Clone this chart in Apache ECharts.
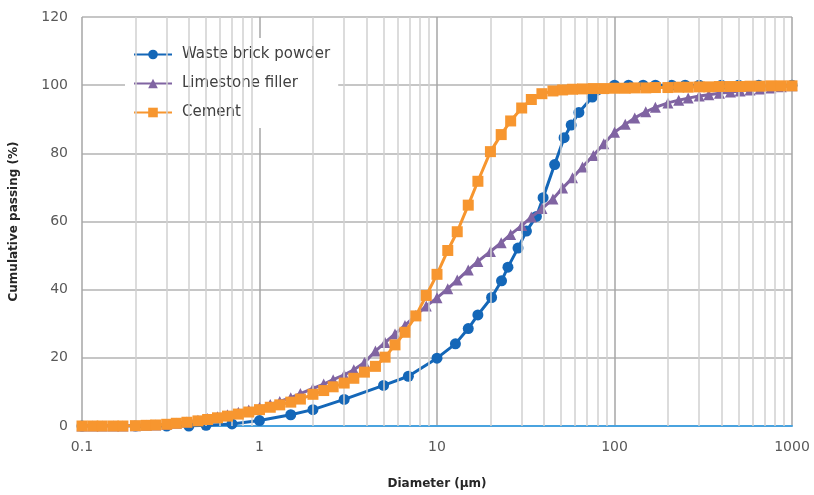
<!DOCTYPE html>
<html><head><meta charset="utf-8">
<script src="https://cdn.jsdelivr.net/npm/echarts@6/dist/echarts.min.js"></script>
<style>html,body{margin:0;padding:0;background:#fff}#c{width:814px;height:495px}</style>
</head><body><div id="c"></div>
<script>
// Waste brick powder (diameter µm, cumulative %)
const brickD = [0.1, 0.2, 0.3, 0.4, 0.5, 0.7, 1.0, 1.5, 2.0, 3.0, 5.0, 6.9, 10, 12.7, 15, 17, 20.3, 23.1, 25.1, 28.6, 31.9, 36.3, 39.6, 46, 52, 57, 63, 75, 100, 120, 145, 170, 210, 250, 300, 400, 500, 650, 1000];
const brickV = [0, 0, 0, 0, 0.2, 0.6, 1.6, 3.3, 4.8, 7.8, 11.9, 14.6, 19.9, 24.1, 28.6, 32.6, 37.7, 42.6, 46.6, 52.2, 57.2, 61.5, 67.0, 76.7, 84.6, 88.3, 92.0, 96.5, 100, 100, 100, 100, 100, 100, 100, 100, 100, 100, 100];
// Shared size bins for limestone filler and cement
const binD = [0.1, 0.115, 0.13, 0.15, 0.17, 0.2, 0.23, 0.26, 0.3, 0.34, 0.39, 0.45, 0.51, 0.58, 0.66, 0.76, 0.87, 1.0, 1.15, 1.3, 1.5, 1.7, 2.0, 2.3, 2.6, 3.0, 3.4, 3.9, 4.5, 5.1, 5.8, 6.6, 7.6, 8.7, 10, 11.5, 13, 15, 17, 20, 23, 26, 30, 34, 39, 45, 51, 58, 66, 76, 87, 100, 115, 130, 150, 170, 200, 230, 260, 300, 340, 390, 450, 510, 580, 660, 760, 870, 1000];
const limeV = [0, 0, 0, 0, 0, 0.1, 0.2, 0.3, 0.5, 0.8, 1.2, 1.7, 2.2, 2.7, 3.3, 4.0, 4.7, 5.4, 6.3, 7.2, 8.3, 9.5, 11.0, 12.3, 13.6, 15.0, 16.5, 18.6, 22.0, 24.5, 27.0, 29.5, 32.5, 35.2, 37.6, 40.3, 42.8, 45.8, 48.3, 51.2, 53.8, 56.2, 58.8, 61.3, 63.8, 66.6, 69.8, 72.8, 76.0, 79.4, 82.8, 86.2, 88.5, 90.4, 92.2, 93.5, 94.8, 95.6, 96.2, 96.8, 97.2, 97.6, 98.0, 98.3, 98.6, 98.9, 99.2, 99.5, 99.8];
const cemV = [0, 0, 0, 0, 0, 0.1, 0.2, 0.3, 0.5, 0.8, 1.1, 1.5, 1.9, 2.4, 2.9, 3.5, 4.1, 4.8, 5.5, 6.2, 7.0, 7.9, 9.3, 10.4, 11.5, 12.6, 14.0, 15.8, 17.5, 20.2, 23.8, 27.5, 32.3, 38.3, 44.5, 51.5, 57.0, 64.8, 71.8, 80.5, 85.5, 89.5, 93.3, 95.8, 97.5, 98.3, 98.6, 98.8, 98.9, 99.0, 99.0, 99.1, 99.1, 99.2, 99.2, 99.3, 99.3, 99.4, 99.4, 99.5, 99.5, 99.6, 99.6, 99.6, 99.7, 99.7, 99.8, 99.8, 99.8];
const seriesNames = ['Waste brick powder', 'Limestone filler', 'Cement'];
const xTicks = [0.1, 1, 10, 100, 1000];
const minorGrid = [0.2,0.3,0.4,0.5,0.6,0.7,0.8,0.9,2,3,4,5,6,7,8,9,20,30,40,50,60,70,80,90,200,300,400,500,600,700,800,900];

const zip = (a, b) => a.map((d, i) => [d, b[i]]);
const FONT = 'DejaVu Sans';
const chart = echarts.init(document.getElementById('c'));
chart.setOption({
  animation: false,
  backgroundColor: '#fff',
  grid: { left: 82, right: 22, top: 17, bottom: 60 },
  legend: {
    data: seriesNames,
    orient: 'vertical',
    left: 125, top: 38,
    width: 240,
    backgroundColor: '#ffffff',
    padding: [9, 8, 8, 8],
    itemGap: 14,
    itemWidth: 38, itemHeight: 12,
    textStyle: { fontFamily: FONT, fontSize: 15, color: '#404040', padding: [0, 0, 0, 5] }
  },
  xAxis: {
    type: 'log', logBase: 10, min: 0.1, max: 1000,
    name: 'Diameter (µm)', nameLocation: 'middle', nameGap: 52,
    nameTextStyle: { fontFamily: FONT, fontSize: 12, fontWeight: 'bold', color: '#262626' },
    axisLine: { show: true, lineStyle: { color: '#4aa3df', width: 2 } },
    axisTick: { show: false },
    axisLabel: { fontFamily: FONT, fontSize: 14, color: '#595959', margin: 14,
      formatter: v => String(Number(Number(v).toPrecision(6))) },
    splitLine: { show: true, lineStyle: { color: '#a6a6a6', width: 1.5 } }
  },
  yAxis: {
    type: 'value', min: 0, max: 120, interval: 20,
    name: 'Cumulative passing (%)', nameLocation: 'middle', nameGap: 62, nameRotate: 90,
    nameTextStyle: { fontFamily: FONT, fontSize: 12, fontWeight: 'bold', color: '#262626' },
    axisLine: { show: false }, axisTick: { show: false },
    axisLabel: { fontFamily: FONT, fontSize: 14, color: '#595959', margin: 14 },
    splitLine: { show: true, lineStyle: { color: '#b3b3b3', width: 1.5 } }
  },
  series: [
    { type: 'line', name: 'grid', data: [], z: 1, silent: true,
      markLine: { silent: true, symbol: ['none', 'none'], label: { show: false },
        lineStyle: { color: '#d0d0d0', width: 1.5, type: 'solid' },
        emphasis: { disabled: true },
        data: minorGrid.map(v => ({ xAxis: v })) } },
    { type: 'line', name: seriesNames[0], data: zip(brickD, brickV), z: 3,
      symbol: 'circle', symbolSize: 11, color: '#1467b8',
      lineStyle: { width: 3, color: '#1467b8' }, itemStyle: { color: '#1467b8' } },
    { type: 'line', name: seriesNames[1], data: zip(binD, limeV), z: 4,
      symbol: 'triangle', symbolSize: 11, color: '#8064a2',
      lineStyle: { width: 3, color: '#8064a2' }, itemStyle: { color: '#8064a2' } },
    { type: 'line', name: seriesNames[2], data: zip(binD, cemV), z: 5,
      symbol: 'rect', symbolSize: 11, color: '#f7962f',
      lineStyle: { width: 3, color: '#f7962f' }, itemStyle: { color: '#f7962f' } }
  ]
});
</script></body></html>
